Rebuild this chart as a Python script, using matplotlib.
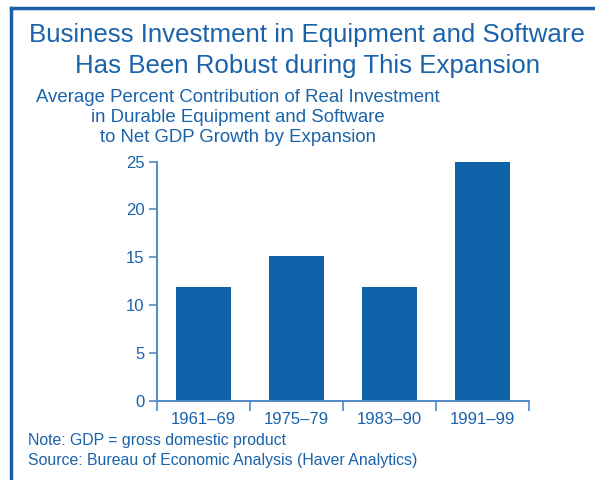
import matplotlib.pyplot as plt
from matplotlib.lines import Line2D

periods = ['1961–69', '1975–79', '1983–90', '1991–99']
contribution = [11.9, 15.1, 11.9, 25.0]
yticks = [0, 5, 10, 15, 20, 25]

bar_color = '#1062a8'
text_color = '#1a63ab'
axis_color = '#4f8cc6'

plt.rcParams['font.family'] = ['Liberation Sans', 'DejaVu Sans']

fig = plt.figure(figsize=(5.95, 4.8), dpi=100)
ax = fig.add_axes([157 / 595, (480 - 401) / 480, (529 - 157) / 595, (401 - 161.5) / 480])

x = range(len(periods))
ax.bar(x, contribution, width=0.6, color=bar_color)

ax.set_xlim(-0.5, len(periods) - 0.5)
ax.set_ylim(0, 25)
ax.set_yticks(yticks)
ax.set_yticklabels([str(v) for v in yticks], color=text_color, fontsize=12)

# category labels centred, tick marks at the boundaries
ax.set_xticks([i - 0.5 for i in range(len(periods) + 1)])
ax.set_xticklabels([])
ax.set_xticks(list(x), minor=True)
ax.set_xticklabels(periods, minor=True, color=text_color, fontsize=12)
ax.tick_params(axis='x', which='minor', length=0, pad=8)
ax.tick_params(axis='x', which='major', length=7, width=1.2, color=axis_color, direction='out')
ax.tick_params(axis='y', length=6, width=1.2, color=axis_color, direction='out', pad=3)

for side in ['top', 'right']:
    ax.spines[side].set_visible(False)
for side in ['left', 'bottom']:
    ax.spines[side].set_color(axis_color)
    ax.spines[side].set_linewidth(1.4)

# titles
fig.text(307 / 595, 1 - 35 / 480, 'Business Investment in Equipment and Software',
         ha='center', va='center', fontsize=18.6, color=text_color)
fig.text(307 / 595, 1 - 66 / 480, 'Has Been Robust during This Expansion',
         ha='center', va='center', fontsize=18.6, color=text_color)
subtitle = ['Average Percent Contribution of Real Investment',
            'in Durable Equipment and Software',
            'to Net GDP Growth by Expansion']
for i, line in enumerate(subtitle):
    fig.text(238 / 595, 1 - (97 + 20.5 * i) / 480, line,
             ha='center', va='center', fontsize=13.4, color=text_color)

# notes
fig.text(28 / 595, 1 - 441 / 480, 'Note: GDP = gross domestic product',
         ha='left', va='center', fontsize=11.45, color=text_color)
fig.text(28 / 595, 1 - 461 / 480, 'Source: Bureau of Economic Analysis (Haver Analytics)',
         ha='left', va='center', fontsize=11.45, color=text_color)

# frame on left and top
fig.add_artist(Line2D([11 / 595, 11 / 595], [0, 1 - 8 / 480], transform=fig.transFigure,
                      color='#1a5fa8', linewidth=2.5))
fig.add_artist(Line2D([11 / 595, 1], [1 - 8 / 480, 1 - 8 / 480], transform=fig.transFigure,
                      color='#1a5fa8', linewidth=2.5))

plt.savefig('out.png', dpi=100)
